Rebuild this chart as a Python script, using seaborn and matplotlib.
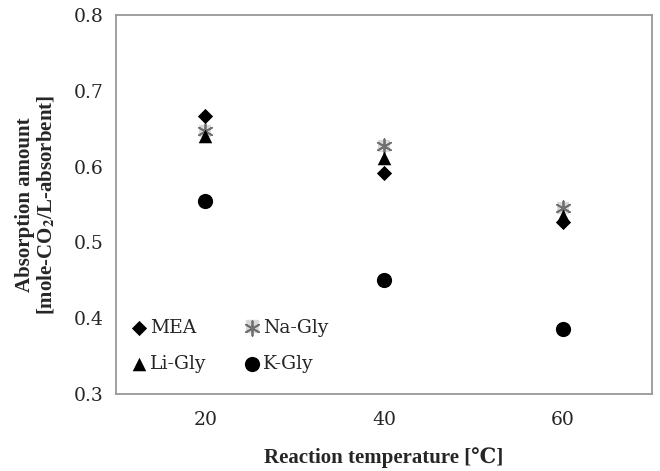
import matplotlib
matplotlib.use('Agg')
import matplotlib.pyplot as plt
import seaborn as sns
import pandas as pd

temps = [20, 40, 60]
mea = [0.667, 0.592, 0.527]
li_gly = [0.640, 0.611, 0.535]
na_gly = [0.647, 0.627, 0.545]
k_gly = [0.555, 0.451, 0.386]
y_ticks = [0.3, 0.4, 0.5, 0.6, 0.7, 0.8]
x_ticks = [20, 40, 60]

sns.set_style('white')
plt.rcParams['font.family'] = ['DejaVu Serif', 'Noto Sans CJK KR']
plt.rcParams['mathtext.fontset'] = 'stix'
label_font = ['Liberation Serif', 'DejaVu Serif', 'Noto Sans CJK KR']

fig = plt.figure(figsize=(6.6, 4.71), dpi=100)
ax = fig.add_axes([0.1758, 0.1635, 0.8122, 0.8045])

# light box behind the Na-Gly star, then the series (star behind the triangle)
df_na = pd.DataFrame({'T': temps, 'A': na_gly})
sns.scatterplot(data=df_na, x='T', y='A', marker='s', color='#d9d9d9', s=80,
                linewidth=0, ax=ax, legend=False)
series = [
    ('Na-Gly', na_gly, (6, 2, 0), '#707070', 110),
    ('MEA', mea, 'D', 'black', 60),
    ('Li-Gly', li_gly, '^', 'black', 95),
    ('K-Gly', k_gly, 'o', 'black', 120),
]
for name, vals, mk, col, sz in series:
    df = pd.DataFrame({'T': temps, 'A': vals})
    sns.scatterplot(data=df, x='T', y='A', marker=mk, color=col, s=sz,
                    linewidth=1.3 if name == 'Na-Gly' else 0,
                    edgecolor=col, label=name, ax=ax)

ax.set_xlim(10, 70)
ax.set_ylim(0.3, 0.8)
ax.set_xticks(x_ticks)
ax.set_yticks(y_ticks)
ax.set_yticklabels([f'{v:.1f}' for v in y_ticks])
ax.tick_params(axis='y', direction='out', length=5, width=1, color='#888888', labelsize=13.5, pad=4)
ax.tick_params(axis='x', length=0, labelsize=13.5, pad=12)
for s in ax.spines.values():
    s.set_color('#999999')
    s.set_linewidth(1.3)

ax.set_xlabel('Reaction temperature [℃]', fontsize=15, fontweight='bold',
              labelpad=13, family=label_font)
ax.set_ylabel('Absorption amount\n[mole-CO$_\\mathbf{2}$/L-absorbent]', fontsize=15,
              fontweight='bold', labelpad=12, linespacing=1.05, family=label_font)

h, l = ax.get_legend_handles_labels()
order = ['MEA', 'Li-Gly', 'Na-Gly', 'K-Gly']
hd = dict(zip(l, h))
box = plt.Line2D([], [], marker='s', color='#d9d9d9', linestyle='', markersize=8)
hd['Na-Gly'] = (box, hd['Na-Gly'])
ax.legend([hd[k] for k in order], order, ncol=2, frameon=False, fontsize=13.5,
          loc='lower left', bbox_to_anchor=(-0.01, 0.01), handletextpad=0.0,
          handlelength=1.2, columnspacing=1.8, labelspacing=1.0)

fig.savefig('out.png', dpi=100)
